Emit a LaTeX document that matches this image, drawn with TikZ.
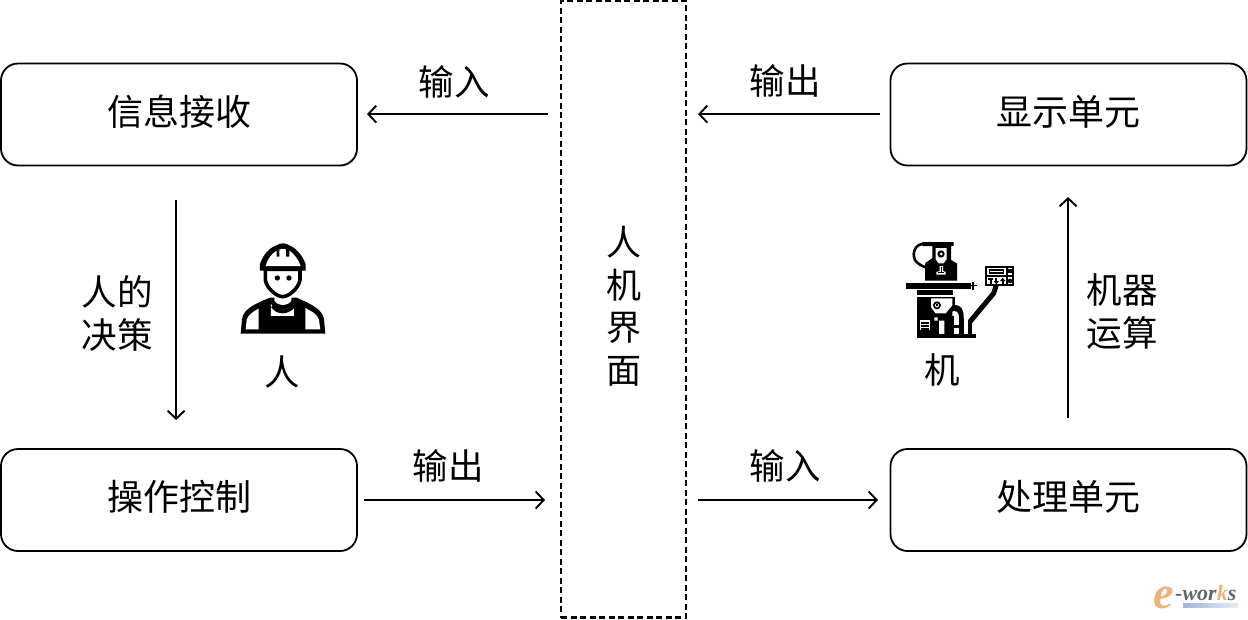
\documentclass[tikz,border=0pt]{standalone}
\usepackage{fontspec}
\setmainfont{Liberation Serif}
\newfontfamily\cjk{Noto Sans CJK SC}
\usetikzlibrary{arrows.meta}
\definecolor{logoorange}{HTML}{EDB27C}
\definecolor{logogrey}{HTML}{62676B}
\definecolor{logoblue}{HTML}{9DB4DC}
\tikzset{
  unitbox/.style={draw=black,line width=1.8pt,rounded corners=17pt,minimum width=356pt,minimum height=102pt,inner sep=0pt},
  boxtext/.style={font=\cjk\fontsize{36}{36}\selectfont,inner sep=0pt},
  lab/.style={font=\cjk\fontsize{35.5}{43}\selectfont,inner sep=0pt,align=center},
  conn/.style={draw=black,line width=1.9pt,-{Straight Barb[length=8pt,width=17pt,line width=1.9pt]}},
  ifacebox/.style={draw=black,dashed,line width=2.2pt,dash pattern=on 6pt off 3.5pt,minimum width=125pt,minimum height=617pt,inner sep=0pt},
}
\begin{document}
\begin{tikzpicture}[x=1pt,y=-1pt]
\useasboundingbox (0,0) rectangle (1248,619);
\fill[white] (0,0) rectangle (1248,619);
% boxes
\node[unitbox] (recv) at (179,114.5) {};
\node[unitbox] (op) at (179,500) {};
\node[unitbox] (disp) at (1068.5,114.5) {};
\node[unitbox] (proc) at (1068.5,500) {};
\node[boxtext] (recvt) at (179,111.5) {信息接收};
\node[boxtext] (opt) at (179,496.5) {操作控制};
\node[boxtext] (dispt) at (1068.5,111.5) {显示单元};
\node[boxtext] (proct) at (1068.5,496.5) {处理单元};
\node[ifacebox] (hmi) at (623.5,309) {};
\node[lab,font=\cjk\fontsize{35}{42.5}\selectfont] (hmit) at (624,306) {人\\机\\界\\面};
% free ends
\coordinate (a1s) at (548,114.1); \coordinate (a1e) at (367,114.1);
\coordinate (a2s) at (880,114.1); \coordinate (a2e) at (698,114.1);
\coordinate (a3s) at (176.1,200); \coordinate (a3e) at (176.1,420);
\coordinate (a4s) at (364,500); \coordinate (a4e) at (545,500);
\coordinate (a5s) at (698,500); \coordinate (a5e) at (878,500);
\coordinate (a6s) at (1068.1,418); \coordinate (a6e) at (1068.1,197);
\draw[conn] (a1s) -- (a1e);
\draw[conn] (a2s) -- (a2e);
\draw[conn] (a3s) -- (a3e);
\draw[conn] (a4s) -- (a4e);
\draw[conn] (a5s) -- (a5e);
\draw[conn] (a6s) -- (a6e);
% labels
\node[lab] (l1) at (454,82) {输入};
\node[lab] (l2) at (785,81) {输出};
\node[lab] (l3) at (117,313.5) {人的\\决策};
\node[lab] (l4) at (448,466) {输出};
\node[lab] (l5) at (785,466) {输入};
\node[lab] (l6) at (1122,311.5) {机器\\运算};
\node[lab] (l7) at (282,372) {人};
\node[lab] (l8) at (942,370) {机};
% worker icon
\begin{scope}[shift={(220,230)},x=0.3333pt,y=-0.3333pt]
 % body
 \fill[black] (62,311) -- (66,268) .. controls (70,240) and (95,225) .. (150,203)
   -- (230,203) .. controls (280,225) and (308,240) .. (312,268) -- (316,311) -- cycle;
 \fill[white] (77,298) -- (80,270) .. controls (84,256) and (95,247) .. (116,236) -- (116,298) -- cycle;
 \fill[white] (301,298) -- (297,270) .. controls (293,256) and (282,247) .. (256,234) -- (256,298) -- cycle;
 \fill[white] (153,258) -- (153,222) .. controls (165,245) and (205,245) .. (222,222) -- (222,258) -- cycle;
 \fill[black] (158,222) .. controls (170,244) and (205,244) .. (220,222) -- (224,232) .. controls (205,256) and (170,256) .. (154,232) -- cycle;
 % neck
 \fill[white] (163,200) -- (214,200) -- (214,212) .. controls (202,230) and (176,230) .. (163,212) -- cycle;
 % face
 \draw[black,line width=3.6pt,fill=white] (136,118) -- (136,150) .. controls (140,175) and (170,200) .. (188,200) .. controls (206,200) and (236,175) .. (240,150) -- (240,118) -- cycle;
 \fill[black] (172,144) circle (8);
 \fill[black] (207,144) circle (8);
 % helmet
 \fill[black] (120,122) -- (120,102) .. controls (130,72) and (150,52) .. (170,46) .. controls (180,38) and (198,38) .. (208,46) .. controls (230,55) and (248,78) .. (257,102) -- (257,122) -- cycle;
 \fill[white] (137,108) .. controls (142,88) and (155,70) .. (170,62) -- (170,80) -- (178,80) -- (178,58) -- (198,58) -- (198,80) -- (208,80) -- (208,62) .. controls (222,70) and (236,90) .. (242,108) -- cycle;
 \fill[white] (182,56) rectangle (194,62);
\end{scope}
% machine icon
\begin{scope}[shift={(895,230)},x=0.3333pt,y=-0.3333pt]
 % head arc
 \draw[black,line width=2.6pt] (92,42) .. controls (60,38) and (50,70) .. (60,90) .. controls (66,100) and (80,108) .. (92,112);
 \fill[black] (82,36) -- (176,36) -- (176,48) -- (168,48) -- (168,90) -- (186,100) -- (186,152) -- (90,152) -- (90,100) -- (112,84) -- (112,48) -- (82,48) -- cycle;
 \fill[white] (122,54) -- (155,54) -- (155,88) -- (146,100) -- (131,100) -- (122,88) -- cycle;
 \fill[black] (138,72) circle (11);
 \fill[white] (138,72) circle (4.5);
 \fill[white] (124,134) -- (152,134) -- (152,126) -- (144,123) -- (144,108) -- (134,108) -- (134,123) -- (124,126) -- cycle;
 \fill[black] (128,127) rectangle (148,130);
 \fill[black] (138,110) rectangle (140,125);
 % table
 \fill[black] (33,158) rectangle (228,176);
 \fill[black] (228,164) rectangle (246,168);
 \fill[black] (232,155) rectangle (237,181);
 \fill[black] (66,180) rectangle (175,196);
 % base column
 \fill[black] (66,200) rectangle (180,322);
 \fill[black] (176,225) .. controls (200,225) and (206,238) .. (206,262) -- (206,322) -- (176,322) -- cycle;
 \fill[black] (66,312) rectangle (243,324);
 \fill[white] (108,205) -- (172,205) -- (172,226) -- (152,250) -- (122,250) -- (108,232) -- cycle;
 \fill[black] (126,226) circle (12);
 \fill[white] (126,226) circle (6);
 \fill[black] (123,223) rectangle (129,229);
 \fill[white] (76,270) rectangle (104,300);
 \fill[black] (78,276) rectangle (102,281);
 \fill[black] (78,285) rectangle (102,290);
 \fill[black] (78,294) rectangle (102,299);
 \fill[white] (118,262) -- (128,262) -- (128,272) -- (148,272) -- (148,312) -- (132,312) -- (132,272) -- (118,272) -- cycle;
 \fill[white] (172,245) .. controls (180,240) and (190,245) .. (192,258) -- (172,258) -- cycle;
 \fill[white] (176,258) rectangle (193,284);
 \fill[white] (176,294) rectangle (193,312);
 \fill[black] (194,265) rectangle (206,312);
 \fill[white] (206,285) rectangle (219,312);
 \fill[black] (219,270) rectangle (231,316);
 % arm
 \draw[black,line width=5pt] (225,275) -- (296,190) -- (304,165);
 % panel
 \fill[black] (270,108) rectangle (358,168);
 \fill[white] (276,113) rectangle (352,163);
 \fill[black] (276,136) rectangle (352,141);
 \fill[black] (333,113) rectangle (338,163);
 \fill[black] (281,118) rectangle (328,131);
 \fill[white] (285,122) rectangle (324,127);
 \fill[black] (340,118) rectangle (350,129);
 \fill[black] (345,153) circle (7);
 \fill[black] (280,144) rectangle (295,149); \fill[black] (285,149) rectangle (290,163);
 \fill[black] (301,144) rectangle (307,156); \fill[black] (296,153) -- (312,153) -- (304,163) -- cycle;
 \fill[black] (320,150) rectangle (326,163); \fill[black] (315,153) -- (331,153) -- (323,143) -- cycle;
\end{scope}
% watermark
\shade[left color=logoblue,right color=logoblue!25] (1183,603) rectangle (1238,607);
\node[inner sep=0pt,anchor=base west,font=\fontsize{46}{46}\selectfont\itshape\bfseries,text=logoorange] (lge) at (1153,608) {e};
\node[inner sep=0pt,anchor=base west,font=\fontsize{22}{22}\selectfont\itshape\bfseries,text=logogrey] (lgw) at (1175,600) {-wor\textcolor{logoorange}{k}s};
\end{tikzpicture}
\end{document}
